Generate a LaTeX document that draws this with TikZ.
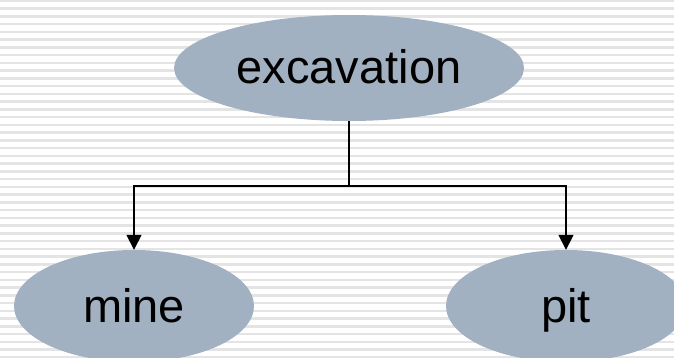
\documentclass[tikz,border=0pt]{standalone}
\usepackage{fontspec}
\setmainfont{Liberation Sans}
\usetikzlibrary{shapes.geometric,arrows.meta}
\definecolor{ellfill}{HTML}{A2B1C1}
\definecolor{stripe}{HTML}{E4E4E4}
\tikzset{
  blob/.style={ellipse, fill=ellfill, draw=none, inner sep=0pt,
    font=\fontsize{47}{52}\selectfont, text=black,
    text height=32pt, text depth=0pt},
  conn/.style={line width=1.6pt, draw=black},
  arr/.style={conn, -{Triangle[width=15pt,length=15pt]}}
}
\begin{document}
\begin{tikzpicture}[x=1pt,y=-1pt]
\useasboundingbox (0,0) rectangle (674,358);
\begin{scope}
\clip (0,0) rectangle (674,358);
\foreach \k in {0,...,46} {
  \fill[stripe] (0,{\k*7.75-0.3}) rectangle (674,{\k*7.75+2.2});
}
\node[blob, minimum width=350pt, minimum height=106pt] (exc) at (349,68) {excavation};
\node[blob, minimum width=240pt, minimum height=112pt] (mine) at (134,306) {mine};
\node[blob, minimum width=240pt, minimum height=112pt] (pit) at (566,306) {pit};
\end{scope}
\coordinate (j) at (349,186);
\draw[conn] (exc.south) -- (j);
\draw[arr] (j) -| (mine.north);
\draw[arr] (j) -| (pit.north);
\end{tikzpicture}
\end{document}
